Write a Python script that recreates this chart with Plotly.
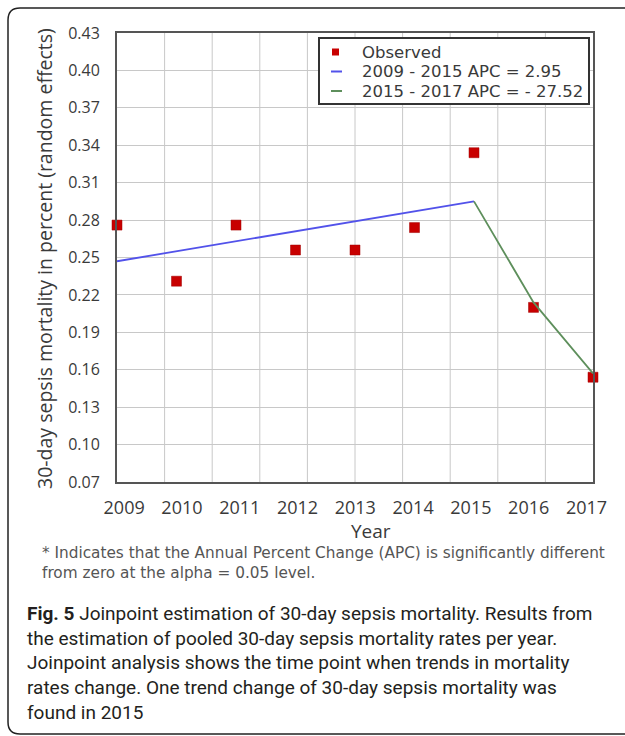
import plotly.graph_objects as go

# ---- data ----
years = [2009, 2010, 2011, 2012, 2013, 2014, 2015, 2016, 2017]
observed = [0.276, 0.231, 0.276, 0.256, 0.256, 0.274, 0.334, 0.210, 0.154]
seg1_years = [2009, 2010, 2011, 2012, 2013, 2014, 2015]
seg1_fit = [0.247, 0.255, 0.263, 0.271, 0.279, 0.287, 0.295]
seg2_years = [2015, 2016, 2017]
seg2_fit = [0.295, 0.214, 0.157]
tick_labels = ["2009", "2010", "2011", "2012", "2013", "2014", "2015", "2016", "2017"]
y_ticks = [0.07, 0.10, 0.13, 0.16, 0.19, 0.22, 0.25, 0.28, 0.31, 0.34, 0.37, 0.40, 0.43]

legend_names = ["Observed", "2009 - 2015 APC = 2.95", "2015 - 2017 APC = - 27.52"]

RED, BLUE, GREEN = "#c80000", "#5252ea", "#5e8f5c"

W, H = 625, 736
L, R, T, B = 117, 32, 33, 254
PW, PH = W - L - R, H - T - B

def px(x):
    return (x - L) / PW

def py(y):
    return (H - B - y) / PH

FONT = "Open Sans"
TXT = "#3a3a3a"

# tick label positions (labels sit slightly inside the first/last year)
first_pos, last_pos = 2009.12, 2016.89
tick_pos = [first_pos + i * (last_pos - first_pos) / (len(tick_labels) - 1) for i in range(len(tick_labels))]

fig = go.Figure()
fig.add_trace(go.Scatter(
    x=years, y=observed, mode="markers", name=legend_names[0],
    marker=dict(symbol="square", size=10, color=RED,
                line=dict(color="#a00000", width=0.5)),
    cliponaxis=False,
))
fig.add_trace(go.Scatter(
    x=seg1_years, y=seg1_fit, mode="lines", name=legend_names[1],
    line=dict(color=BLUE, width=1.8),
))
fig.add_trace(go.Scatter(
    x=seg2_years, y=seg2_fit, mode="lines", name=legend_names[2],
    line=dict(color=GREEN, width=1.8),
))

shapes = []
# vertical grid: 10 equal intervals
for k in range(1, 10):
    shapes.append(dict(type="line", xref="x domain", yref="y domain",
                       x0=k / 10, x1=k / 10, y0=0, y1=1,
                       line=dict(color="#c8c8c8", width=1), layer="below"))
# outer frame (rounded left corners)
fx = lambda v: f"{px(v):.5f}"
fy = lambda v: f"{py(v):.5f}"
path = (f"M {fx(640)},{fy(8)} L {fx(20)},{fy(8)} Q {fx(8)},{fy(8)} {fx(8)},{fy(20)} "
        f"L {fx(8)},{fy(722)} Q {fx(8)},{fy(734)} {fx(20)},{fy(734)} L {fx(640)},{fy(734)}")
shapes.append(dict(type="path", xref="paper", yref="paper", path=path,
                   line=dict(color="#222222", width=1.5)))

# legend box (drawn to match the compact original legend)
leg_x0, leg_x1, leg_y0, leg_y1 = 319, 589, 38, 104
leg_rows = [52, 71.5, 91]
shapes.append(dict(type="rect", xref="paper", yref="paper",
                   x0=px(leg_x0), x1=px(leg_x1), y0=py(leg_y1), y1=py(leg_y0),
                   fillcolor="white", line=dict(color="#333333", width=2)))
shapes.append(dict(type="rect", xref="paper", yref="paper",
                   x0=px(332), x1=px(339), y0=py(leg_rows[0] + 3.5), y1=py(leg_rows[0] - 3.5),
                   fillcolor=RED, line=dict(width=0)))
for row, col in zip(leg_rows[1:], [BLUE, GREEN]):
    shapes.append(dict(type="line", xref="paper", yref="paper",
                       x0=px(331), x1=px(342), y0=py(row), y1=py(row),
                       line=dict(color=col, width=2)))

annotations = [
    dict(text=name, xref="paper", yref="paper", x=px(360), y=py(row),
         xanchor="left", yanchor="middle", showarrow=False,
         font=dict(family="DejaVu Sans", size=16.5, color=TXT))
    for name, row in zip(legend_names, leg_rows)
]
annotations += [
    dict(text="30-day sepsis mortality in percent (random effects)", textangle=-90,
         xref="paper", yref="paper", x=px(44), y=py(259), xanchor="center", yanchor="middle",
         showarrow=False, font=dict(family=FONT, size=19.5, color=TXT)),
    dict(text="Year", xref="paper", yref="paper", x=px(371), y=py(531),
         xanchor="center", yanchor="middle", showarrow=False,
         font=dict(family=FONT, size=19, color=TXT)),
    dict(text="* Indicates that the Annual Percent Change (APC) is significantly different<br>"
              "from zero at the alpha = 0.05 level.",
         xref="paper", yref="paper", x=px(40), y=py(542), xanchor="left", yanchor="top",
         align="left", showarrow=False, font=dict(family="DejaVu Sans", size=15.3, color="#555555")),
    dict(text="<b>Fig. 5</b> Joinpoint estimation of 30-day sepsis mortality. Results from<br>"
              "the estimation of pooled 30-day sepsis mortality rates per year.<br>"
              "Joinpoint analysis shows the time point when trends in mortality<br>"
              "rates change. One trend change of 30-day sepsis mortality was<br>"
              "found in 2015",
         xref="paper", yref="paper", x=px(25), y=py(600), xanchor="left", yanchor="top",
         align="left", showarrow=False, font=dict(family="Roboto", size=19, color="#231f20")),
]

fig.update_layout(
    width=W, height=H,
    margin=dict(l=L, r=R, t=T, b=B),
    paper_bgcolor="white", plot_bgcolor="white",
    showlegend=False,
    shapes=shapes,
    annotations=annotations,
    xaxis=dict(range=[2009, 2017], tickvals=tick_pos, ticktext=tick_labels,
               showgrid=False, zeroline=False, showline=True, linecolor="#555555",
               linewidth=2, mirror=True, ticks="outside", ticklen=8,
               tickcolor="rgba(0,0,0,0)",
               tickfont=dict(family=FONT, size=18, color=TXT)),
    yaxis=dict(range=[0.07, 0.43], tickvals=y_ticks,
               ticktext=[f"{v:.2f}" for v in y_ticks],
               showgrid=True, gridcolor="#c8c8c8", gridwidth=1, zeroline=False,
               showline=True, linecolor="#555555", linewidth=2, mirror=True,
               ticks="outside", ticklen=12, tickcolor="rgba(0,0,0,0)",
               tickfont=dict(family=FONT, size=16, color=TXT)),
)

fig.write_html("out.html", config={"displayModeBar": False},
               post_script="document.body.style.margin='0px';document.body.style.overflow='hidden';")
